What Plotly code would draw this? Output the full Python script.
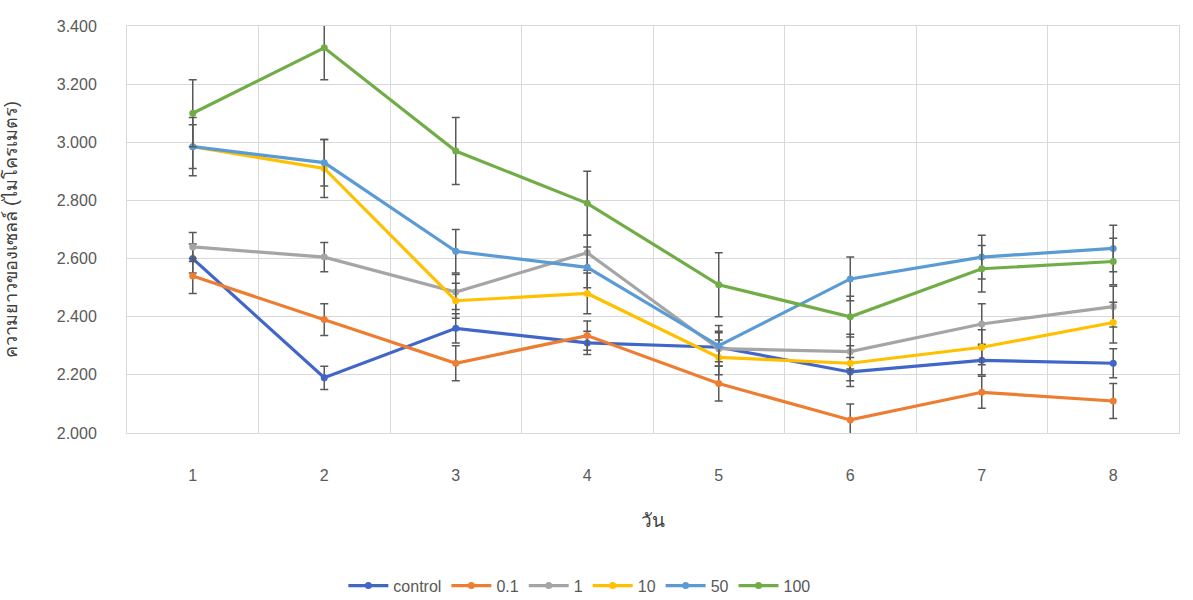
import plotly.graph_objects as go

# Days on the x axis
days = ["1", "2", "3", "4", "5", "6", "7", "8"]

# Mean cell length per treatment (micrometres)
control = [2.60, 2.19, 2.36, 2.31, 2.295, 2.21, 2.25, 2.24]
conc_0_1 = [2.54, 2.39, 2.24, 2.335, 2.17, 2.045, 2.14, 2.11]
conc_1 = [2.64, 2.605, 2.485, 2.62, 2.29, 2.28, 2.375, 2.435]
conc_10 = [2.985, 2.91, 2.455, 2.48, 2.26, 2.24, 2.295, 2.38]
conc_50 = [2.985, 2.93, 2.625, 2.57, 2.30, 2.53, 2.605, 2.635]
conc_100 = [3.10, 3.325, 2.97, 2.79, 2.51, 2.40, 2.565, 2.59]

# Error bar half-widths
err_control = [0.05, 0.04, 0.05, 0.04, 0.05, 0.05, 0.05, 0.05]
err_0_1 = [0.06, 0.055, 0.06, 0.05, 0.06, 0.055, 0.055, 0.06]
err_1 = [0.05, 0.05, 0.06, 0.06, 0.06, 0.06, 0.07, 0.07]
err_10 = [0.10, 0.10, 0.06, 0.07, 0.06, 0.06, 0.06, 0.07]
err_50 = [0.075, 0.08, 0.075, 0.07, 0.07, 0.075, 0.075, 0.08]
err_100 = [0.115, 0.11, 0.115, 0.11, 0.11, 0.07, 0.08, 0.08]

series_names = ["control", "0.1", "1", "10", "50", "100"]
series_values = [control, conc_0_1, conc_1, conc_10, conc_50, conc_100]
series_errors = [err_control, err_0_1, err_1, err_10, err_50, err_100]
series_colors = ["#4066C8", "#ED7D31", "#A5A5A5", "#FFC000", "#5B9BD5", "#70AD47"]

y_ticks = [2.0, 2.2, 2.4, 2.6, 2.8, 3.0, 3.2, 3.4]

FONT = "Liberation Sans, Arial, sans-serif"
TEXT_COLOR = "#595959"
GRID = "#D9D9D9"

fig = go.Figure()
for name, vals, errs, color in zip(series_names, series_values, series_errors, series_colors):
    fig.add_trace(go.Scatter(
        x=days,
        y=vals,
        name=name,
        mode="lines+markers",
        line=dict(color=color, width=3.2),
        marker=dict(color=color, size=7, symbol="circle"),
        error_y=dict(type="data", array=errs, visible=True,
                     color="#595959", thickness=1.5, width=4),
    ))

fig.update_layout(
    width=1193,
    height=600,
    margin=dict(l=127, r=14, t=26, b=167, autoexpand=False),
    paper_bgcolor="white",
    plot_bgcolor="white",
    font=dict(family=FONT, size=16, color=TEXT_COLOR),
    showlegend=True,
    legend=dict(
        orientation="h",
        x=0.43, xanchor="center",
        y=-0.375, yanchor="middle",
        font=dict(family=FONT, size=16, color=TEXT_COLOR),
        itemwidth=40,
        tracegroupgap=0,
    ),
    xaxis=dict(
        type="category",
        range=[-0.5, len(days) - 0.5],
        tickson="boundaries",
        showgrid=True,
        gridcolor=GRID,
        gridwidth=1,
        ticks="",
        ticklabelstandoff=28,
        showline=True,
        linecolor=GRID,
        mirror=True,
        zeroline=False,
        automargin=False,
        tickfont=dict(family=FONT, size=16, color=TEXT_COLOR),
        title=dict(text="วัน", font=dict(size=19, color="#404040"), standoff=30),
    ),
    yaxis=dict(
        range=[2.0, 3.4],
        tickvals=y_ticks,
        tickformat=".3f",
        showgrid=True,
        gridcolor=GRID,
        gridwidth=1,
        ticks="",
        ticklabelstandoff=26,
        showline=True,
        linecolor=GRID,
        mirror=True,
        zeroline=False,
        automargin=False,
        tickfont=dict(family=FONT, size=16, color=TEXT_COLOR),
        title=dict(text="ความยาวของเซลล์ (ไมโครเมตร)", font=dict(size=18, color="#404040"), standoff=34),
    ),
)

fig.write_html("out.html")
